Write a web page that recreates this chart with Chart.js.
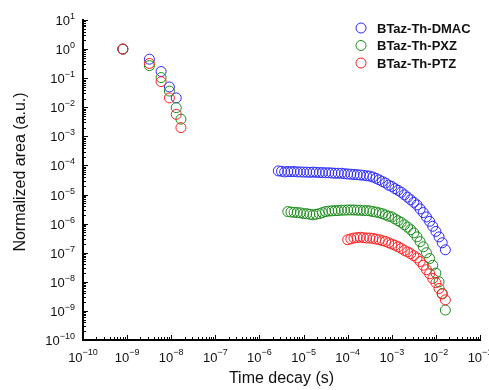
<!DOCTYPE html>
<html>
<head>
<meta charset="utf-8">
<script src="https://cdn.jsdelivr.net/npm/chart.js@4.4.1/dist/chart.umd.min.js"></script>
<style>
    html, body { margin: 0; padding: 0; background: #fff; }
    #wrap { width: 489px; height: 390px; }
</style>
</head>
<body>
<div id="wrap"><canvas id="chartDecay" width="489" height="390"></canvas></div>
<script>
// Series names and colours (legend order)
const seriesNames = ['BTaz-Th-DMAC', 'BTaz-Th-PXZ', 'BTaz-Th-PTZ'];
const seriesColors = ['#2a2aff', '#1a8c1a', '#ff2020'];

// Axis ticks (exponents of 10)
const xTickExps = [-10, -9, -8, -7, -6, -5, -4, -3, -2, -1];
const yTickExps = [1, 0, -1, -2, -3, -4, -5, -6, -7, -8, -9, -10];

// BTaz-Th-DMAC: time (s) / normalized area
const timeDMAC = [8e-10, 3.2e-9, 5.9e-9, 9.1e-9, 1.3e-8,
    2.68e-6, 3.16e-6, 3.73e-6, 4.39e-6, 5.18e-6, 6.11e-6, 7.20e-6, 8.48e-6,
    1.00e-5, 1.18e-5, 1.39e-5, 1.64e-5, 1.93e-5, 2.28e-5, 2.68e-5, 3.16e-5, 3.73e-5, 4.39e-5, 5.18e-5, 6.11e-5, 7.20e-5, 8.48e-5,
    1.00e-4, 1.18e-4, 1.39e-4, 1.64e-4, 1.93e-4, 2.28e-4, 2.68e-4, 3.16e-4, 3.73e-4, 4.39e-4, 5.18e-4, 6.11e-4, 7.20e-4, 8.48e-4,
    1.00e-3, 1.18e-3, 1.39e-3, 1.64e-3, 1.93e-3, 2.28e-3, 2.68e-3, 3.16e-3, 3.73e-3, 4.39e-3, 5.18e-3, 6.11e-3, 7.20e-3, 8.48e-3,
    1.00e-2, 1.18e-2, 1.39e-2, 1.64e-2];
const areaDMAC = [1, 0.45, 0.17, 0.05, 0.021,
    6.5e-5, 6.3e-5, 6.0e-5, 6.2e-5, 6.1e-5, 6.2e-5, 6.0e-5, 6.0e-5,
    5.9e-5, 5.9e-5, 5.8e-5, 5.9e-5, 5.8e-5, 5.7e-5, 5.7e-5, 5.6e-5, 5.6e-5, 5.5e-5, 5.4e-5, 5.4e-5, 5.4e-5, 5.2e-5,
    5.1e-5, 5.0e-5, 4.9e-5, 4.8e-5, 4.7e-5, 4.6e-5, 4.4e-5, 4.3e-5, 4.0e-5, 3.6e-5, 3.2e-5, 2.8e-5, 2.5e-5, 2.1e-5,
    1.9e-5, 1.6e-5, 1.4e-5, 1.2e-5, 9.8e-6, 8.1e-6, 6.6e-6, 5.4e-6, 4.4e-6, 3.2e-6, 2.4e-6, 1.7e-6, 1.2e-6, 8.1e-7,
    5.4e-7, 3.5e-7, 2.2e-7, 1.26e-7];

// BTaz-Th-PXZ
const timePXZ = [8e-10, 3.2e-9, 5.9e-9, 9.1e-9, 1.3e-8, 1.66e-8,
    4.39e-6, 5.18e-6, 6.11e-6, 7.20e-6, 8.48e-6,
    1.00e-5, 1.18e-5, 1.39e-5, 1.64e-5, 1.93e-5, 2.28e-5, 2.68e-5, 3.16e-5, 3.73e-5, 4.39e-5, 5.18e-5, 6.11e-5, 7.20e-5, 8.48e-5,
    1.00e-4, 1.18e-4, 1.39e-4, 1.64e-4, 1.93e-4, 2.28e-4, 2.68e-4, 3.16e-4, 3.73e-4, 4.39e-4, 5.18e-4, 6.11e-4, 7.20e-4, 8.48e-4,
    1.00e-3, 1.18e-3, 1.39e-3, 1.64e-3, 1.93e-3, 2.28e-3, 2.68e-3, 3.16e-3, 3.73e-3, 4.39e-3, 5.18e-3, 6.11e-3, 7.20e-3, 8.48e-3,
    1.00e-2, 1.18e-2, 1.39e-2, 1.64e-2];
const areaPXZ = [1, 0.27, 0.105, 0.036, 0.0097, 0.0039,
    2.6e-6, 2.5e-6, 2.45e-6, 2.4e-6, 2.35e-6,
    2.2e-6, 2.2e-6, 2.1e-6, 2.0e-6, 2.1e-6, 2.2e-6, 2.4e-6, 2.6e-6, 2.7e-6, 2.75e-6, 2.8e-6, 2.8e-6, 2.9e-6, 2.9e-6,
    2.95e-6, 2.95e-6, 2.95e-6, 2.9e-6, 2.9e-6, 2.8e-6, 2.8e-6, 2.75e-6, 2.6e-6, 2.5e-6, 2.35e-6, 2.2e-6, 2.0e-6, 1.8e-6,
    1.7e-6, 1.45e-6, 1.26e-6, 1.1e-6, 9.1e-7, 7.6e-7, 6.2e-7, 4.8e-7, 3.5e-7, 2.4e-7, 1.6e-7, 1.0e-7, 6.3e-8, 3.7e-8,
    2.0e-8, 1.0e-8, 4.0e-9, 1.07e-9];

// BTaz-Th-PTZ
const timePTZ = [8e-10, 3.2e-9, 5.9e-9, 9.1e-9, 1.3e-8, 1.66e-8,
    1.00e-4, 1.18e-4, 1.39e-4, 1.64e-4, 1.93e-4, 2.28e-4, 2.68e-4, 3.16e-4, 3.73e-4, 4.39e-4, 5.18e-4, 6.11e-4, 7.20e-4, 8.48e-4,
    1.00e-3, 1.18e-3, 1.39e-3, 1.64e-3, 1.93e-3, 2.28e-3, 2.68e-3, 3.16e-3, 3.73e-3, 4.39e-3, 5.18e-3, 6.11e-3, 7.20e-3, 8.48e-3,
    1.00e-2, 1.18e-2, 1.39e-2, 1.64e-2];
const areaPTZ = [1, 0.32, 0.076, 0.021, 0.0057, 0.002,
    2.8e-7, 3.0e-7, 3.2e-7, 3.3e-7, 3.4e-7, 3.3e-7, 3.2e-7, 3.2e-7, 3.1e-7, 2.95e-7, 2.8e-7, 2.6e-7, 2.45e-7, 2.2e-7,
    2.0e-7, 1.8e-7, 1.6e-7, 1.4e-7, 1.2e-7, 1.07e-7, 9.3e-8, 7.9e-8, 6.6e-8, 5.0e-8, 3.7e-8, 2.6e-8, 1.9e-8, 1.3e-8,
    9.3e-9, 5.9e-9, 3.8e-9, 2.4e-9];

const FONT = 'Arial, "Liberation Sans", sans-serif';

function pares(tempos, valores) {
    return tempos.map((t, i) => ({ x: t, y: valores[i] }));
}

// desenha ticks, rótulos 10^n, títulos e legenda
const eixosPlugin = {
    id: 'eixosLog',
    afterDraw(chart) {
        const ctx = chart.ctx;
        const xs = chart.scales.x, ys = chart.scales.y;
        const area = chart.chartArea;
        ctx.save();
        ctx.strokeStyle = '#000';
        ctx.lineWidth = 1;

        // ticks x (para dentro)
        for (let k = -10; k <= -1; k++) {
            for (let m = 1; m <= 9; m++) {
                const v = m * Math.pow(10, k);
                if (v > xs.max * 1.0001) break;
                const px = Math.round(xs.getPixelForValue(v)) + 0.5;
                const len = m === 1 ? 5 : 3;
                ctx.beginPath();
                ctx.moveTo(px, area.bottom);
                ctx.lineTo(px, area.bottom - len);
                ctx.stroke();
            }
        }
        // ticks y
        for (let k = -10; k <= 1; k++) {
            for (let m = 1; m <= 9; m++) {
                const v = m * Math.pow(10, k);
                if (v > ys.max * 1.0001) break;
                const py = Math.round(ys.getPixelForValue(v)) + 0.5;
                const len = m === 1 ? 5 : 3;
                ctx.beginPath();
                ctx.moveTo(area.left, py);
                ctx.lineTo(area.left + len, py);
                ctx.stroke();
            }
        }

        ctx.fillStyle = '#111';
        ctx.textBaseline = 'alphabetic';
        // rótulos x
        xTickExps.forEach(e => {
            const px = xs.getPixelForValue(Math.pow(10, e));
            ctx.font = '13px ' + FONT;
            const w10 = ctx.measureText('10').width;
            ctx.font = '9px ' + FONT;
            const wExp = ctx.measureText(String(e).replace('-', '\u2212')).width;
            const x0 = px - (w10 + wExp) / 2;
            ctx.font = '13px ' + FONT;
            ctx.textAlign = 'left';
            ctx.fillText('10', x0, 362);
            ctx.font = '9px ' + FONT;
            ctx.fillText(String(e).replace('-', '\u2212'), x0 + w10, 355);
        });
        // rótulos y
        yTickExps.forEach(e => {
            const py = ys.getPixelForValue(Math.pow(10, e));
            const right = area.left - 8;
            ctx.font = '9px ' + FONT;
            const expTxt = String(e).replace('-', '\u2212');
            const wExp = ctx.measureText(expTxt).width;
            ctx.textAlign = 'left';
            ctx.fillText(expTxt, right - wExp, py - 1);
            ctx.font = '13px ' + FONT;
            ctx.textAlign = 'right';
            ctx.fillText('10', right - wExp, py + 5);
        });

        // títulos dos eixos
        ctx.font = '16px ' + FONT;
        ctx.textAlign = 'center';
        ctx.textBaseline = 'middle';
        ctx.fillText('Time decay (s)', (area.left + area.right) / 2, 379);
        ctx.save();
        ctx.translate(21, 172);
        ctx.rotate(-Math.PI / 2);
        ctx.fillText('Normalized area (a.u.)', 0, 0);
        ctx.restore();

        // legenda
        seriesNames.forEach((nome, i) => {
            const cy = 28 + i * 17.5;
            ctx.beginPath();
            ctx.strokeStyle = seriesColors[i];
            ctx.lineWidth = 1;
            ctx.arc(361, cy, 5, 0, Math.PI * 2);
            ctx.stroke();
            ctx.fillStyle = '#111';
            ctx.font = 'bold 13px ' + FONT;
            ctx.textAlign = 'left';
            ctx.textBaseline = 'middle';
            ctx.fillText(nome, 377, cy + 1);
        });
        ctx.restore();
    }
};

function serie(label, tempos, valores, cor, ordem) {
    return {
        label: label,
        data: pares(tempos, valores),
        showLine: false,
        pointStyle: 'circle',
        pointRadius: 5,
        pointBorderWidth: 1,
        pointBackgroundColor: 'rgba(0,0,0,0)',
        pointBorderColor: cor,
        borderColor: cor,
        backgroundColor: 'rgba(0,0,0,0)',
        order: ordem
    };
}

const eixoBase = {
    type: 'logarithmic',
    grid: { display: false, drawTicks: false },
    ticks: { display: false },
    border: { display: true, color: '#000', width: 2 }
};

new Chart(document.getElementById('chartDecay'), {
    type: 'scatter',
    data: {
        datasets: [
            serie(seriesNames[0], timeDMAC, areaDMAC, seriesColors[0], 3),
            serie(seriesNames[1], timePXZ, areaPXZ, seriesColors[1], 2),
            serie(seriesNames[2], timePTZ, areaPTZ, seriesColors[2], 1)
        ]
    },
    options: {
        responsive: false,
        animation: false,
        devicePixelRatio: 1,
        layout: { padding: { left: 83, top: 20, right: 9, bottom: 50 } },
        plugins: {
            legend: { display: false },
            tooltip: { enabled: false }
        },
        scales: {
            x: Object.assign({}, eixoBase, { min: 1e-10, max: 1e-1 }),
            y: Object.assign({}, eixoBase, { min: 1e-10, max: 10 })
        }
    },
    plugins: [eixosPlugin]
});
</script>
</body>
</html>
